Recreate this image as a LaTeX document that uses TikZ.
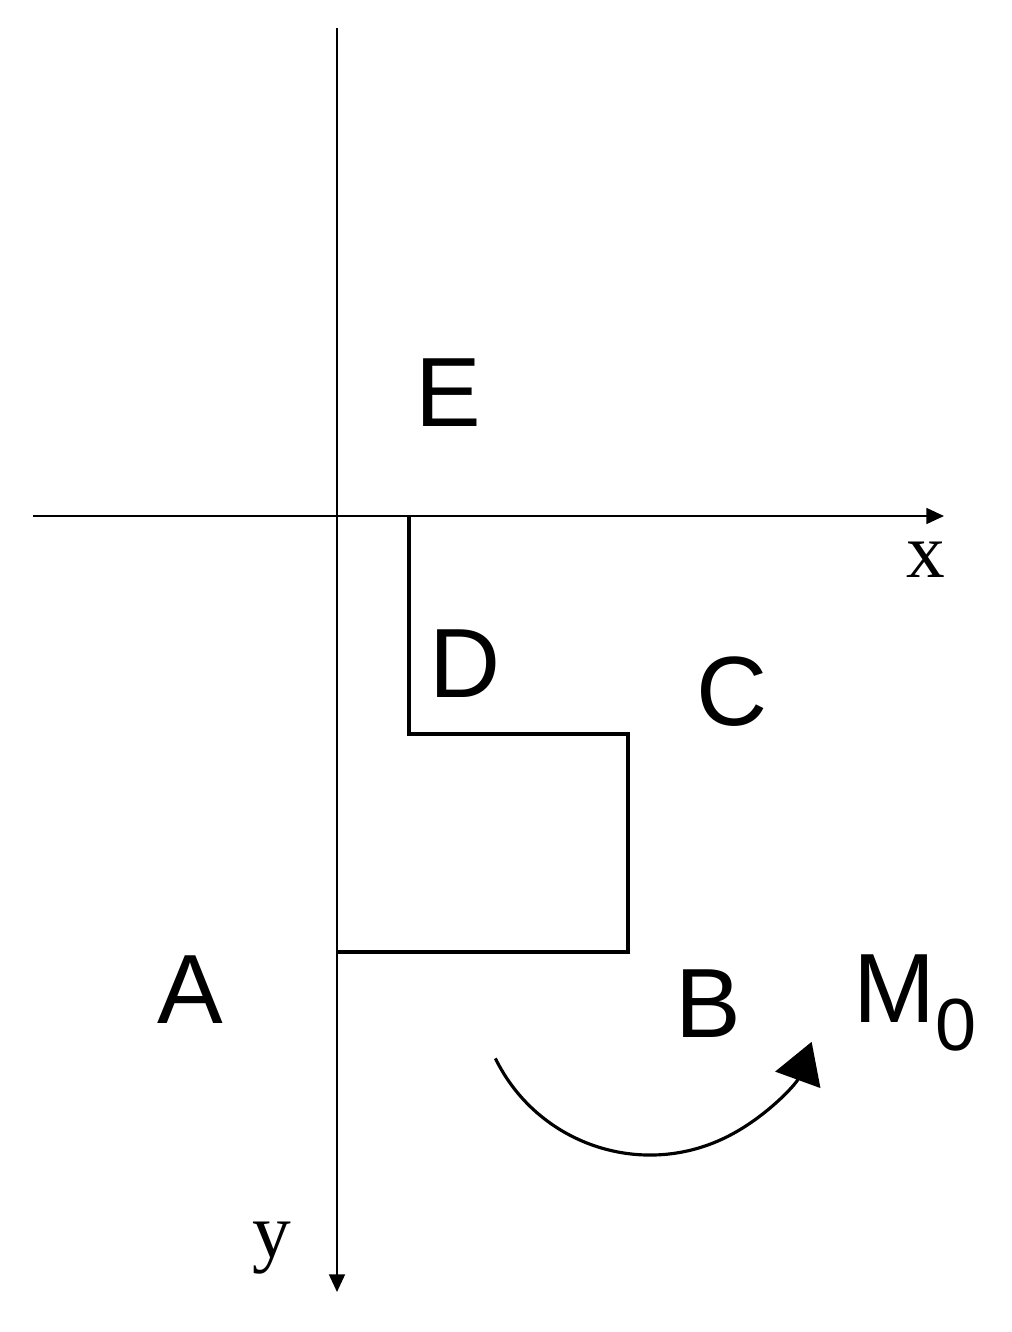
\documentclass[tikz,border=0pt]{standalone}
\usepackage{fontspec}
\setmainfont{Liberation Serif}
\setsansfont{Liberation Sans}
\usetikzlibrary{arrows.meta}
\begin{document}
\begin{tikzpicture}[x=0.01cm,y=-0.01cm,
  axis/.style={line width=0.6pt,-{Triangle[length=5pt,width=4.5pt]}},
  body/.style={line width=1.1pt,line join=miter},
  lab/.style={font=\sffamily\fontsize{28}{30}\selectfont,inner sep=0pt},
  axlab/.style={font=\fontsize{22}{24}\selectfont,inner sep=0pt},
  moment/.style={line width=0.9pt,-{Triangle[length=11.5pt,width=13.5pt]}}]
\useasboundingbox (0,0) rectangle (1011,1332);
\coordinate (ys) at (337,28);
\coordinate (ye) at (337,1292);
\coordinate (xs) at (33,516);
\coordinate (xe) at (944,516);
\draw[axis] (xs) -- (xe);
\draw[axis] (ys) -- (ye);
\coordinate (p1) at (409,516);
\coordinate (p2) at (409,734);
\coordinate (p3) at (628,734);
\coordinate (p4) at (628,952);
\coordinate (p5) at (337,952);
\draw[body] (p1) -- (p2) -- (p3) -- (p4) -- (p5);
\node[lab] (E) at (448,393) {E};
\node[lab] (D) at (465,664) {D};
\node[lab] (C) at (732,692) {C};
\node[lab] (A) at (190,990) {A};
\node[lab] (B) at (708,1004) {B};
\node[lab] (M) at (915,1003) {M\raisebox{-0.28em}{\fontsize{21}{22}\selectfont 0}};
\node[axlab] (xl) at (926,560) {x};
\node[axlab] (yl) at (272,1248) {y};
\coordinate (arcc) at (650,983);
\draw[moment] (arcc) ++(154:172) arc[start angle=154,end angle=20,radius=172];
\end{tikzpicture}
\end{document}
